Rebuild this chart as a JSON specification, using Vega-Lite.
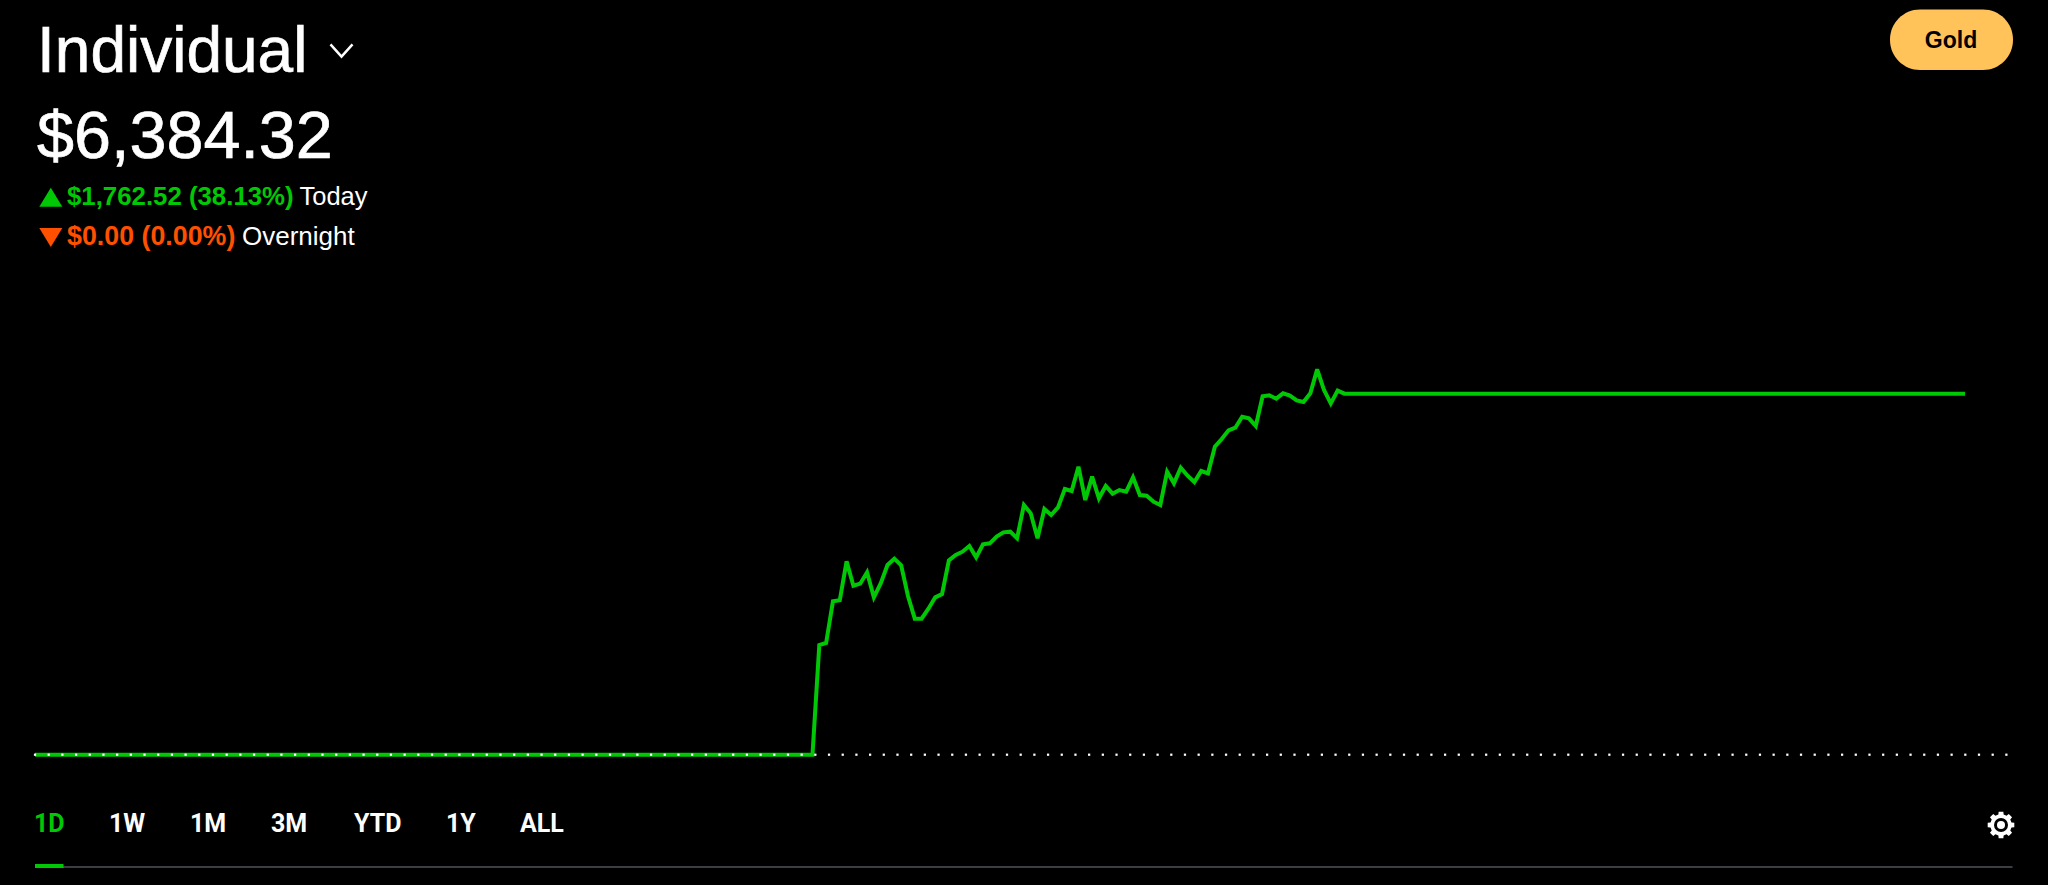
{"$schema":"https://vega.github.io/schema/vega-lite/v6.json","width":2048,"height":885,"autosize":{"type":"fit","contains":"padding"},"padding":0,"background":"#000000","config":{"view":{"stroke":null}},"datasets":{"portfolio":[{"t":0,"v":4621.8},{"t":1,"v":4621.8},{"t":2,"v":4621.8},{"t":3,"v":4621.8},{"t":4,"v":4621.8},{"t":5,"v":4621.8},{"t":6,"v":4621.8},{"t":7,"v":4621.8},{"t":8,"v":4621.8},{"t":9,"v":4621.8},{"t":10,"v":4621.8},{"t":11,"v":4621.8},{"t":12,"v":4621.8},{"t":13,"v":4621.8},{"t":14,"v":4621.8},{"t":15,"v":4621.8},{"t":16,"v":4621.8},{"t":17,"v":4621.8},{"t":18,"v":4621.8},{"t":19,"v":4621.8},{"t":20,"v":4621.8},{"t":21,"v":4621.8},{"t":22,"v":4621.8},{"t":23,"v":4621.8},{"t":24,"v":4621.8},{"t":25,"v":4621.8},{"t":26,"v":4621.8},{"t":27,"v":4621.8},{"t":28,"v":4621.8},{"t":29,"v":4621.8},{"t":30,"v":4621.8},{"t":31,"v":4621.8},{"t":32,"v":4621.8},{"t":33,"v":4621.8},{"t":34,"v":4621.8},{"t":35,"v":4621.8},{"t":36,"v":4621.8},{"t":37,"v":4621.8},{"t":38,"v":4621.8},{"t":39,"v":4621.8},{"t":40,"v":4621.8},{"t":41,"v":4621.8},{"t":42,"v":4621.8},{"t":43,"v":4621.8},{"t":44,"v":4621.8},{"t":45,"v":4621.8},{"t":46,"v":4621.8},{"t":47,"v":4621.8},{"t":48,"v":4621.8},{"t":49,"v":4621.8},{"t":50,"v":4621.8},{"t":51,"v":4621.8},{"t":52,"v":4621.8},{"t":53,"v":4621.8},{"t":54,"v":4621.8},{"t":55,"v":4621.8},{"t":56,"v":4621.8},{"t":57,"v":4621.8},{"t":58,"v":4621.8},{"t":59,"v":4621.8},{"t":60,"v":4621.8},{"t":61,"v":4621.8},{"t":62,"v":4621.8},{"t":63,"v":4621.8},{"t":64,"v":4621.8},{"t":65,"v":4621.8},{"t":66,"v":4621.8},{"t":67,"v":4621.8},{"t":68,"v":4621.8},{"t":69,"v":4621.8},{"t":70,"v":4621.8},{"t":71,"v":4621.8},{"t":72,"v":4621.8},{"t":73,"v":4621.8},{"t":74,"v":4621.8},{"t":75,"v":4621.8},{"t":76,"v":4621.8},{"t":77,"v":4621.8},{"t":78,"v":4621.8},{"t":79,"v":4621.8},{"t":80,"v":4621.8},{"t":81,"v":4621.8},{"t":82,"v":4621.8},{"t":83,"v":4621.8},{"t":84,"v":4621.8},{"t":85,"v":4621.8},{"t":86,"v":4621.8},{"t":87,"v":4621.8},{"t":88,"v":4621.8},{"t":89,"v":4621.8},{"t":90,"v":4621.8},{"t":91,"v":4621.8},{"t":92,"v":4621.8},{"t":93,"v":4621.8},{"t":94,"v":4621.8},{"t":95,"v":4621.8},{"t":96,"v":4621.8},{"t":97,"v":4621.8},{"t":98,"v":4621.8},{"t":99,"v":4621.8},{"t":100,"v":4621.8},{"t":101,"v":4621.8},{"t":102,"v":4621.8},{"t":103,"v":4621.8},{"t":104,"v":4621.8},{"t":105,"v":4621.8},{"t":106,"v":4621.8},{"t":107,"v":4621.8},{"t":108,"v":4621.8},{"t":109,"v":4621.8},{"t":110,"v":4621.8},{"t":111,"v":4621.8},{"t":112,"v":4621.8},{"t":113,"v":4621.8},{"t":114,"v":4621.8},{"t":115,"v":5157.4},{"t":116,"v":5167.1},{"t":117,"v":5370.5},{"t":118,"v":5375.4},{"t":119,"v":5565.8},{"t":120,"v":5447.0},{"t":121,"v":5456.8},{"t":122,"v":5512.1},{"t":123,"v":5390.1},{"t":124,"v":5458.4},{"t":125,"v":5547.9},{"t":126,"v":5578.8},{"t":127,"v":5546.3},{"t":128,"v":5396.6},{"t":129,"v":5285.9},{"t":130,"v":5285.9},{"t":131,"v":5334.7},{"t":132,"v":5390.1},{"t":133,"v":5406.3},{"t":134,"v":5570.7},{"t":135,"v":5596.7},{"t":136,"v":5613.0},{"t":137,"v":5640.7},{"t":138,"v":5585.3},{"t":139,"v":5648.8},{"t":140,"v":5653.7},{"t":141,"v":5686.2},{"t":142,"v":5707.4},{"t":143,"v":5710.7},{"t":144,"v":5678.2},{"t":145,"v":5840.9},{"t":146,"v":5800.2},{"t":147,"v":5678.2},{"t":148,"v":5821.4},{"t":149,"v":5792.1},{"t":150,"v":5829.5},{"t":151,"v":5919.0},{"t":152,"v":5909.2},{"t":153,"v":6028.0},{"t":154,"v":5865.3},{"t":155,"v":5979.2},{"t":156,"v":5873.4},{"t":157,"v":5933.6},{"t":158,"v":5896.1},{"t":159,"v":5914.0},{"t":160,"v":5905.9},{"t":161,"v":5975.9},{"t":162,"v":5889.6},{"t":163,"v":5886.4},{"t":164,"v":5857.1},{"t":165,"v":5840.8},{"t":166,"v":6003.5},{"t":167,"v":5946.6},{"t":168,"v":6023.1},{"t":169,"v":5984.0},{"t":170,"v":5953.1},{"t":171,"v":6006.8},{"t":172,"v":5995.4},{"t":173,"v":6125.6},{"t":174,"v":6163.0},{"t":175,"v":6205.3},{"t":176,"v":6218.3},{"t":177,"v":6272.0},{"t":178,"v":6263.9},{"t":179,"v":6226.5},{"t":180,"v":6371.3},{"t":181,"v":6376.2},{"t":182,"v":6359.9},{"t":183,"v":6386.0},{"t":184,"v":6374.6},{"t":185,"v":6351.8},{"t":186,"v":6343.6},{"t":187,"v":6386.0},{"t":188,"v":6503.1},{"t":189,"v":6402.2},{"t":190,"v":6337.1},{"t":191,"v":6399.0},{"t":192,"v":6384.32},{"t":193,"v":6384.32},{"t":194,"v":6384.32},{"t":195,"v":6384.32},{"t":196,"v":6384.32},{"t":197,"v":6384.32},{"t":198,"v":6384.32},{"t":199,"v":6384.32},{"t":200,"v":6384.32},{"t":201,"v":6384.32},{"t":202,"v":6384.32},{"t":203,"v":6384.32},{"t":204,"v":6384.32},{"t":205,"v":6384.32},{"t":206,"v":6384.32},{"t":207,"v":6384.32},{"t":208,"v":6384.32},{"t":209,"v":6384.32},{"t":210,"v":6384.32},{"t":211,"v":6384.32},{"t":212,"v":6384.32},{"t":213,"v":6384.32},{"t":214,"v":6384.32},{"t":215,"v":6384.32},{"t":216,"v":6384.32},{"t":217,"v":6384.32},{"t":218,"v":6384.32},{"t":219,"v":6384.32},{"t":220,"v":6384.32},{"t":221,"v":6384.32},{"t":222,"v":6384.32},{"t":223,"v":6384.32},{"t":224,"v":6384.32},{"t":225,"v":6384.32},{"t":226,"v":6384.32},{"t":227,"v":6384.32},{"t":228,"v":6384.32},{"t":229,"v":6384.32},{"t":230,"v":6384.32},{"t":231,"v":6384.32},{"t":232,"v":6384.32},{"t":233,"v":6384.32},{"t":234,"v":6384.32},{"t":235,"v":6384.32},{"t":236,"v":6384.32},{"t":237,"v":6384.32},{"t":238,"v":6384.32},{"t":239,"v":6384.32},{"t":240,"v":6384.32},{"t":241,"v":6384.32},{"t":242,"v":6384.32},{"t":243,"v":6384.32},{"t":244,"v":6384.32},{"t":245,"v":6384.32},{"t":246,"v":6384.32},{"t":247,"v":6384.32},{"t":248,"v":6384.32},{"t":249,"v":6384.32},{"t":250,"v":6384.32},{"t":251,"v":6384.32},{"t":252,"v":6384.32},{"t":253,"v":6384.32},{"t":254,"v":6384.32},{"t":255,"v":6384.32},{"t":256,"v":6384.32},{"t":257,"v":6384.32},{"t":258,"v":6384.32},{"t":259,"v":6384.32},{"t":260,"v":6384.32},{"t":261,"v":6384.32},{"t":262,"v":6384.32},{"t":263,"v":6384.32},{"t":264,"v":6384.32},{"t":265,"v":6384.32},{"t":266,"v":6384.32},{"t":267,"v":6384.32},{"t":268,"v":6384.32},{"t":269,"v":6384.32},{"t":270,"v":6384.32},{"t":271,"v":6384.32},{"t":272,"v":6384.32},{"t":273,"v":6384.32},{"t":274,"v":6384.32},{"t":275,"v":6384.32},{"t":276,"v":6384.32},{"t":277,"v":6384.32},{"t":278,"v":6384.32},{"t":279,"v":6384.32},{"t":280,"v":6384.32},{"t":281,"v":6384.32},{"t":282,"v":6384.32},{"t":283,"v":6384.32}],"previousClose":[{"d":0,"v":4621.8},{"d":1,"v":4621.8},{"d":2,"v":4621.8},{"d":3,"v":4621.8},{"d":4,"v":4621.8},{"d":5,"v":4621.8},{"d":6,"v":4621.8},{"d":7,"v":4621.8},{"d":8,"v":4621.8},{"d":9,"v":4621.8},{"d":10,"v":4621.8},{"d":11,"v":4621.8},{"d":12,"v":4621.8},{"d":13,"v":4621.8},{"d":14,"v":4621.8},{"d":15,"v":4621.8},{"d":16,"v":4621.8},{"d":17,"v":4621.8},{"d":18,"v":4621.8},{"d":19,"v":4621.8},{"d":20,"v":4621.8},{"d":21,"v":4621.8},{"d":22,"v":4621.8},{"d":23,"v":4621.8},{"d":24,"v":4621.8},{"d":25,"v":4621.8},{"d":26,"v":4621.8},{"d":27,"v":4621.8},{"d":28,"v":4621.8},{"d":29,"v":4621.8},{"d":30,"v":4621.8},{"d":31,"v":4621.8},{"d":32,"v":4621.8},{"d":33,"v":4621.8},{"d":34,"v":4621.8},{"d":35,"v":4621.8},{"d":36,"v":4621.8},{"d":37,"v":4621.8},{"d":38,"v":4621.8},{"d":39,"v":4621.8},{"d":40,"v":4621.8},{"d":41,"v":4621.8},{"d":42,"v":4621.8},{"d":43,"v":4621.8},{"d":44,"v":4621.8},{"d":45,"v":4621.8},{"d":46,"v":4621.8},{"d":47,"v":4621.8},{"d":48,"v":4621.8},{"d":49,"v":4621.8},{"d":50,"v":4621.8},{"d":51,"v":4621.8},{"d":52,"v":4621.8},{"d":53,"v":4621.8},{"d":54,"v":4621.8},{"d":55,"v":4621.8},{"d":56,"v":4621.8},{"d":57,"v":4621.8},{"d":58,"v":4621.8},{"d":59,"v":4621.8},{"d":60,"v":4621.8},{"d":61,"v":4621.8},{"d":62,"v":4621.8},{"d":63,"v":4621.8},{"d":64,"v":4621.8},{"d":65,"v":4621.8},{"d":66,"v":4621.8},{"d":67,"v":4621.8},{"d":68,"v":4621.8},{"d":69,"v":4621.8},{"d":70,"v":4621.8},{"d":71,"v":4621.8},{"d":72,"v":4621.8},{"d":73,"v":4621.8},{"d":74,"v":4621.8},{"d":75,"v":4621.8},{"d":76,"v":4621.8},{"d":77,"v":4621.8},{"d":78,"v":4621.8},{"d":79,"v":4621.8},{"d":80,"v":4621.8},{"d":81,"v":4621.8},{"d":82,"v":4621.8},{"d":83,"v":4621.8},{"d":84,"v":4621.8},{"d":85,"v":4621.8},{"d":86,"v":4621.8},{"d":87,"v":4621.8},{"d":88,"v":4621.8},{"d":89,"v":4621.8},{"d":90,"v":4621.8},{"d":91,"v":4621.8},{"d":92,"v":4621.8},{"d":93,"v":4621.8},{"d":94,"v":4621.8},{"d":95,"v":4621.8},{"d":96,"v":4621.8},{"d":97,"v":4621.8},{"d":98,"v":4621.8},{"d":99,"v":4621.8},{"d":100,"v":4621.8},{"d":101,"v":4621.8},{"d":102,"v":4621.8},{"d":103,"v":4621.8},{"d":104,"v":4621.8},{"d":105,"v":4621.8},{"d":106,"v":4621.8},{"d":107,"v":4621.8},{"d":108,"v":4621.8},{"d":109,"v":4621.8},{"d":110,"v":4621.8},{"d":111,"v":4621.8},{"d":112,"v":4621.8},{"d":113,"v":4621.8},{"d":114,"v":4621.8},{"d":115,"v":4621.8},{"d":116,"v":4621.8},{"d":117,"v":4621.8},{"d":118,"v":4621.8},{"d":119,"v":4621.8},{"d":120,"v":4621.8},{"d":121,"v":4621.8},{"d":122,"v":4621.8},{"d":123,"v":4621.8},{"d":124,"v":4621.8},{"d":125,"v":4621.8},{"d":126,"v":4621.8},{"d":127,"v":4621.8},{"d":128,"v":4621.8},{"d":129,"v":4621.8},{"d":130,"v":4621.8},{"d":131,"v":4621.8},{"d":132,"v":4621.8},{"d":133,"v":4621.8},{"d":134,"v":4621.8},{"d":135,"v":4621.8},{"d":136,"v":4621.8},{"d":137,"v":4621.8},{"d":138,"v":4621.8},{"d":139,"v":4621.8},{"d":140,"v":4621.8},{"d":141,"v":4621.8},{"d":142,"v":4621.8},{"d":143,"v":4621.8},{"d":144,"v":4621.8}]},"resolve":{"scale":{"x":"independent"}},"layer":[{"data":{"name":"portfolio"},"mark":{"type":"line","color":"#00C805","strokeWidth":4,"strokeJoin":"miter","strokeMiterLimit":3,"clip":false},"encoding":{"x":{"field":"t","type":"quantitative","scale":{"domain":[-5.132,295.16],"nice":false,"zero":false},"axis":null},"y":{"field":"v","type":"quantitative","scale":{"domain":[3985.7,8306.3],"nice":false,"zero":false},"axis":null}}},{"data":{"name":"previousClose"},"mark":{"type":"point","shape":"square","filled":true,"color":"#FFFFFF","size":5,"opacity":1},"encoding":{"x":{"field":"d","type":"quantitative","scale":{"domain":[-2.557,147.04],"nice":false,"zero":false},"axis":null},"y":{"field":"v","type":"quantitative","scale":{"domain":[3985.7,8306.3],"nice":false,"zero":false},"axis":null}}},{"data":{"values":[{"label":"Individual"}]},"mark":{"type":"text","align":"left","baseline":"alphabetic","font":"Liberation Sans","fontSize":64,"color":"#FFFFFF","stroke":"#FFFFFF","strokeWidth":0.7,"x":37,"y":71.5},"encoding":{"text":{"field":"label"}}},{"data":{"values":[{"label":"$6,384.32"}]},"mark":{"type":"text","align":"left","baseline":"alphabetic","font":"Liberation Sans","fontSize":66.5,"color":"#FFFFFF","stroke":"#FFFFFF","strokeWidth":0.7,"x":37,"y":158},"encoding":{"text":{"field":"label"}}},{"data":{"values":[{"label":"$1,762.52 (38.13%)"}]},"mark":{"type":"text","align":"left","baseline":"alphabetic","font":"Liberation Sans","fontWeight":"bold","fontSize":25.8,"color":"#00C805","x":67,"y":205},"encoding":{"text":{"field":"label"}}},{"data":{"values":[{"label":"Today"}]},"mark":{"type":"text","align":"left","baseline":"alphabetic","font":"Liberation Sans","fontSize":25.5,"color":"#FFFFFF","x":299.5,"y":205},"encoding":{"text":{"field":"label"}}},{"data":{"values":[{"label":"$0.00 (0.00%)"}]},"mark":{"type":"text","align":"left","baseline":"alphabetic","font":"Liberation Sans","fontWeight":"bold","fontSize":26.8,"color":"#FF5000","x":67,"y":245},"encoding":{"text":{"field":"label"}}},{"data":{"values":[{"label":"Overnight"}]},"mark":{"type":"text","align":"left","baseline":"alphabetic","font":"Liberation Sans","fontSize":26,"color":"#FFFFFF","x":242,"y":245},"encoding":{"text":{"field":"label"}}},{"data":{"values":[{"icon":"up"}]},"mark":{"type":"point","filled":true,"color":"#00C805","opacity":1,"shape":"M-1,0.82L0,-0.82L1,0.82Z","size":529,"x":50.8,"y":197.2},"encoding":{}},{"data":{"values":[{"icon":"down"}]},"mark":{"type":"point","filled":true,"color":"#FF5000","opacity":1,"shape":"M-1,-0.82L0,0.82L1,-0.82Z","size":529,"x":50.8,"y":237.5},"encoding":{}},{"data":{"values":[{"icon":"chevron"}]},"mark":{"type":"point","filled":false,"stroke":"#FFFFFF","strokeWidth":2.5,"opacity":1,"shape":"M-1,-0.55L0,0.55L1,-0.55","size":484,"x":341.5,"y":50.5},"encoding":{}},{"data":{"values":[{"label":"Gold"}]},"mark":{"type":"rect","color":"#FFC35A","cornerRadius":30,"x":1890,"x2":2013,"y":9.5,"y2":70},"encoding":{}},{"data":{"values":[{"label":"Gold"}]},"mark":{"type":"text","align":"center","baseline":"alphabetic","font":"Liberation Sans","fontWeight":"bold","fontSize":23,"color":"#000000","x":1951,"y":48},"encoding":{"text":{"field":"label"}}},{"data":{"values":[{"label":"1D"}]},"mark":{"type":"text","align":"left","baseline":"alphabetic","font":"Roboto","fontWeight":"bold","fontSize":25,"color":"#00C805","x":34,"y":832},"encoding":{"text":{"field":"label"}}},{"data":{"values":[{"label":"1W"}]},"mark":{"type":"text","align":"left","baseline":"alphabetic","font":"Roboto","fontWeight":"bold","fontSize":25,"color":"#FFFFFF","x":109,"y":832},"encoding":{"text":{"field":"label"}}},{"data":{"values":[{"label":"1M"}]},"mark":{"type":"text","align":"left","baseline":"alphabetic","font":"Roboto","fontWeight":"bold","fontSize":25,"color":"#FFFFFF","x":190,"y":832},"encoding":{"text":{"field":"label"}}},{"data":{"values":[{"label":"3M"}]},"mark":{"type":"text","align":"left","baseline":"alphabetic","font":"Roboto","fontWeight":"bold","fontSize":25,"color":"#FFFFFF","x":271,"y":832},"encoding":{"text":{"field":"label"}}},{"data":{"values":[{"label":"YTD"}]},"mark":{"type":"text","align":"left","baseline":"alphabetic","font":"Roboto","fontWeight":"bold","fontSize":25,"color":"#FFFFFF","x":354,"y":832},"encoding":{"text":{"field":"label"}}},{"data":{"values":[{"label":"1Y"}]},"mark":{"type":"text","align":"left","baseline":"alphabetic","font":"Roboto","fontWeight":"bold","fontSize":25,"color":"#FFFFFF","x":446,"y":832},"encoding":{"text":{"field":"label"}}},{"data":{"values":[{"label":"ALL"}]},"mark":{"type":"text","align":"left","baseline":"alphabetic","font":"Roboto","fontWeight":"bold","fontSize":25,"color":"#FFFFFF","x":520,"y":832},"encoding":{"text":{"field":"label"}}},{"data":{"values":[{"part":"track"}]},"mark":{"type":"rect","color":"#3B3F43","x":35,"x2":2012.5,"y":866,"y2":868},"encoding":{}},{"data":{"values":[{"part":"active"}]},"mark":{"type":"rect","color":"#00C805","x":35,"x2":63.5,"y":864,"y2":868},"encoding":{}},{"data":{"values":[{"icon":"gear"}]},"mark":{"type":"point","filled":true,"color":"#FFFFFF","opacity":1,"shape":"M.776,-.194L.985,-.174L.985,.174L.776,.194L.686,.412L.819,.574L.574,.819L.412,.686L.194,.776L.174,.985L-.174,.985L-.194,.776L-.412,.686L-.574,.819L-.819,.574L-.686,.412L-.776,.194L-.985,.174L-.985,-.174L-.776,-.194L-.686,-.412L-.819,-.574L-.574,-.819L-.412,-.686L-.194,-.776L-.174,-.985L.174,-.985L.194,-.776L.412,-.686L.574,-.819L.819,-.574L.686,-.412Z","size":729,"x":2001,"y":825},"encoding":{}},{"data":{"values":[{"icon":"gear hole"}]},"mark":{"type":"point","filled":true,"color":"#000000","opacity":1,"shape":"circle","size":196,"x":2001,"y":825},"encoding":{}},{"data":{"values":[{"icon":"gear hub"}]},"mark":{"type":"point","filled":true,"color":"#FFFFFF","opacity":1,"shape":"circle","size":64,"x":2001,"y":825},"encoding":{}}]}
